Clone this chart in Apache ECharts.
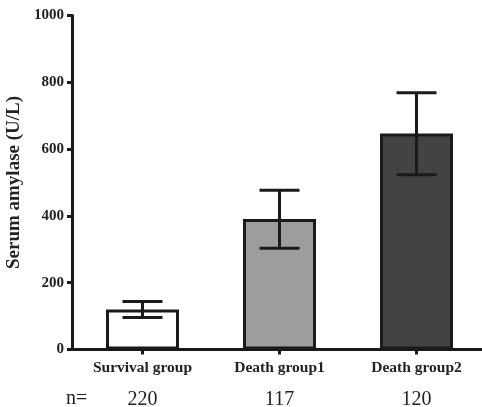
<!DOCTYPE html>
<html>
<head>
<meta charset="utf-8">
<script src="https://cdn.jsdelivr.net/npm/echarts@6/dist/echarts.min.js"></script>
<style>html,body{margin:0;padding:0;background:#fff}#c{width:482px;height:407px}</style>
</head>
<body>
<div id="c"></div>
<script>
const categories = ['Survival group', 'Death group1', 'Death group2'];
const means = [120, 391, 647];
const lowerErr = [96, 303, 523];
const upperErr = [144, 477, 769];
const nValues = ['220', '117', '120'];
const yTicks = [0, 200, 400, 600, 800, 1000];

const fills = ['#ffffff', '#9d9d9d', '#434343'];
const ink = '#1a1a1a';
const serif = '"Liberation Serif", "Times New Roman", serif';

const chart = echarts.init(document.getElementById('c'), null, {renderer: 'canvas'});
chart.setOption({
  animation: false,
  backgroundColor: '#ffffff',
  grid: {left: 74, right: -3, top: 15.5, bottom: 57.5, containLabel: false, outerBoundsMode: 'none'},
  xAxis: [{
    type: 'category',
    data: categories,
    axisLine: {lineStyle: {color: ink, width: 3}},
    axisTick: {show: true, alignWithLabel: true, length: 5, lineStyle: {color: ink, width: 3}},
    axisLabel: {fontFamily: serif, fontWeight: 'bold', fontSize: 15.5, color: '#222', margin: 10}
  }, {
    type: 'category',
    position: 'bottom',
    offset: 33,
    data: nValues,
    axisLine: {show: false},
    axisTick: {show: false},
    axisLabel: {fontFamily: serif, fontSize: 20, color: '#222', margin: 7}
  }],
  yAxis: {
    type: 'value',
    min: yTicks[0],
    max: yTicks[yTicks.length - 1],
    interval: 200,
    offset: 2,
    name: 'Serum amylase (U/L)',
    nameLocation: 'middle',
    nameGap: 45,
    nameTextStyle: {fontFamily: serif, fontWeight: 'bold', fontSize: 19, color: '#222'},
    splitLine: {show: false},
    axisLine: {show: true, lineStyle: {color: ink, width: 3}},
    axisTick: {show: true, length: 5, lineStyle: {color: ink, width: 3}},
    axisLabel: {fontFamily: serif, fontWeight: 'bold', fontSize: 15, color: '#222', margin: 8,
      formatter: function (v) { return String(v); }}
  },
  graphic: [{
    type: 'text',
    left: 66,
    top: 389,
    style: {text: 'n=', font: '20px ' + serif, fill: '#222'}
  }],
  series: [{
    type: 'bar',
    xAxisIndex: 0,
    barWidth: 73,
    data: means.map((v, i) => ({
      value: v,
      itemStyle: {color: fills[i], borderColor: ink, borderWidth: 3}
    }))
  }, {
    type: 'custom',
    xAxisIndex: 0,
    data: categories.map((c, i) => [i, lowerErr[i], upperErr[i]]),
    renderItem: function (params, api) {
      const lo = api.coord([api.value(0), api.value(1)]);
      const hi = api.coord([api.value(0), api.value(2)]);
      const hw = 20;
      const style = {stroke: ink, lineWidth: 3};
      return {
        type: 'group',
        children: [
          {type: 'line', shape: {x1: lo[0], y1: lo[1], x2: hi[0], y2: hi[1]}, style: style},
          {type: 'line', shape: {x1: hi[0] - hw, y1: hi[1], x2: hi[0] + hw, y2: hi[1]}, style: style},
          {type: 'line', shape: {x1: lo[0] - hw, y1: lo[1], x2: lo[0] + hw, y2: lo[1]}, style: style}
        ]
      };
    },
    z: 5
  }]
});
</script>
</body>
</html>
